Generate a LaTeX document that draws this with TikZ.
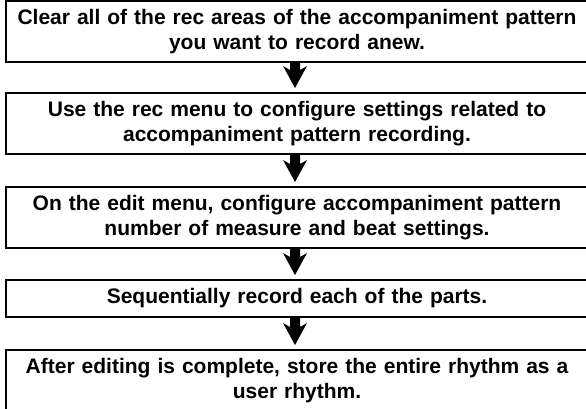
\documentclass[tikz,border=0pt]{standalone}
\usepackage{fontspec}
\setmainfont{Liberation Sans}
\usetikzlibrary{calc}
\tikzset{
  flowbox/.style={draw=black, line width=2.3pt, minimum width=582pt, text width=570pt,
    align=center, inner sep=0pt, outer sep=0pt, anchor=north,
    font=\bfseries\fontsize{21}{25}\selectfont},
  arrowfill/.style={fill=black}
}
\newcommand\flowarrow[2]{%
  \fill[arrowfill] ($(#1.south)+(-7pt,0)$) -- ($(#2.north)+(-7pt,23pt)$)
    -- ($(#2.north)+(-14pt,27pt)$) -- ($(#2.north)+(-2pt,5pt)$)
    -- ($(#2.north)+(10pt,27pt)$) -- ($(#2.north)+(3pt,23pt)$)
    -- ($(#1.south)+(3pt,0)$) -- cycle;}
\begin{document}
\begin{tikzpicture}[x=1pt,y=1pt]
\useasboundingbox (0,0) rectangle (586,-408);
\clip (0,0) rectangle (586,-408);
\node[flowbox, minimum height=60.8pt] (s1) at (297,-1.2)
  {Clear all of the rec areas of the accompaniment pattern\\you want to record anew.};
\node[flowbox, minimum height=61pt] (s2) at (297,-93)
  {Use the rec menu to configure settings related to\\accompaniment pattern recording.};
\node[flowbox, minimum height=61pt] (s3) at (297,-187)
  {On the edit menu, configure accompaniment pattern\\number of measure and beat settings.};
\node[flowbox, minimum height=37pt] (s4) at (297,-280)
  {Sequentially record each of the parts.};
\node[flowbox, minimum height=62pt] (s5) at (297,-350)
  {After editing is complete, store the entire rhythm as a\\user rhythm.};
\flowarrow{s1}{s2}
\flowarrow{s2}{s3}
\flowarrow{s3}{s4}
\flowarrow{s4}{s5}
\end{tikzpicture}
\end{document}
